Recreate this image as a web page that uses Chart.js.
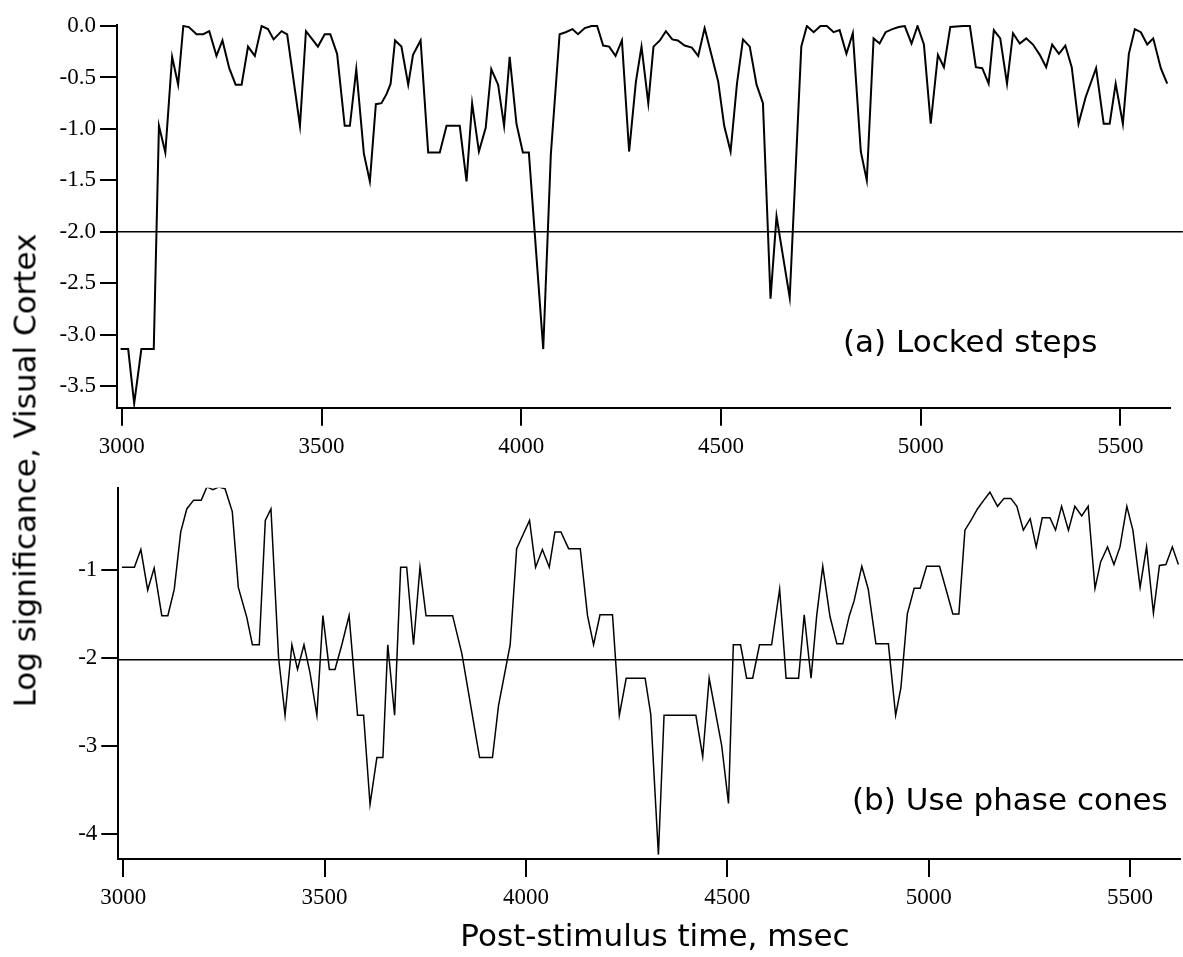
<!DOCTYPE html>
<html>
<head>
<meta charset="utf-8">
<script src="https://cdn.jsdelivr.net/npm/chart.js@4.4.1/dist/chart.umd.min.js"></script>
<style>
  body { margin: 0; background: #fff; }
  #wrap { position: relative; width: 1183px; height: 957px; overflow: hidden; background: #fff; }
  canvas { position: absolute; left: 0; }
  .lab { position: absolute; font-family: "DejaVu Sans"; font-size: 31px; line-height: 31px; color: #000; white-space: nowrap; }
</style>
</head>
<body>
<div id="wrap">
  <canvas id="chartA" width="1183" height="470" style="top:0"></canvas>
  <canvas id="chartB" width="1183" height="450" style="top:470px"></canvas>
  <div class="lab" style="left:843px;top:326px">(a) Locked steps</div>
  <div class="lab" style="left:852px;top:784px">(b) Use phase cones</div>
  <div class="lab" style="left:355px;top:920px;width:600px;text-align:center">Post-stimulus time, msec</div>
  <div class="lab" style="left:-275px;top:455px;width:600px;text-align:center;transform:rotate(-90deg)">Log significance, Visual Cortex</div>
</div>
<script>
// tick labels
const xTicks = [3000, 3500, 4000, 4500, 5000, 5500];
const aYTicks = [0, -0.5, -1, -1.5, -2, -2.5, -3, -3.5];
const bYTicks = [-1, -2, -3, -4];

// significance thresholds
const aLevel = -2.0;
const bLevel = -2.02;

// (a) Locked steps
const aTime = [2997, 3016, 3031, 3049, 3080, 3093, 3109, 3126, 3141, 3154,
  3168, 3187, 3204, 3219, 3237, 3252, 3269, 3285, 3300, 3316,
  3333, 3350, 3366, 3380, 3400, 3414, 3446, 3461, 3477, 3491,
  3508, 3522, 3539, 3558, 3571, 3587, 3606, 3621, 3636, 3650,
  3663, 3673, 3684, 3700, 3717, 3729, 3748, 3767, 3796, 3813,
  3846, 3863, 3877, 3894, 3911, 3925, 3942, 3957, 3971, 3988,
  4004, 4019, 4055, 4074, 4096, 4111, 4128, 4142, 4159, 4176,
  4190, 4205, 4220, 4236, 4252, 4270, 4287, 4301, 4318, 4331,
  4347, 4362, 4378, 4392, 4409, 4427, 4443, 4459, 4476, 4493,
  4508, 4524, 4540, 4555, 4572, 4589, 4605, 4624, 4639, 4672,
  4701, 4715, 4732, 4749, 4765, 4782, 4797, 4814, 4830, 4850,
  4865, 4882, 4897, 4912, 4929, 4945, 4960, 4977, 4992, 5008,
  5025, 5043, 5058, 5074, 5106, 5123, 5138, 5154, 5170, 5183,
  5199, 5216, 5231, 5248, 5264, 5281, 5298, 5314, 5329, 5346,
  5362, 5378, 5395, 5413, 5439, 5458, 5473, 5488, 5506, 5521,
  5536, 5551, 5567, 5582, 5601, 5617];
const aSig = [-3.14, -3.14, -3.67, -3.14, -3.14, -0.97, -1.23, -0.30, -0.57, 0.0,
  -0.01, -0.08, -0.08, -0.05, -0.29, -0.14, -0.41, -0.57, -0.57, -0.20,
  -0.29, 0.0, -0.03, -0.13, -0.05, -0.08, -0.97, -0.05, -0.13, -0.20,
  -0.08, -0.08, -0.27, -0.97, -0.97, -0.42, -1.24, -1.51, -0.76, -0.75,
  -0.66, -0.56, -0.14, -0.20, -0.57, -0.28, -0.14, -1.23, -1.23, -0.97,
  -0.97, -1.51, -0.75, -1.22, -0.99, -0.42, -0.57, -0.97, -0.30, -0.95,
  -1.23, -1.23, -3.14, -1.25, -0.08, -0.06, -0.03, -0.08, -0.02, 0.0,
  0.0, -0.19, -0.20, -0.29, -0.14, -1.22, -0.54, -0.20, -0.75, -0.20,
  -0.14, -0.05, -0.13, -0.14, -0.19, -0.21, -0.29, -0.02, -0.28, -0.54,
  -0.97, -1.22, -0.56, -0.13, -0.20, -0.57, -0.75, -2.65, -1.85, -2.64,
  -0.20, 0.0, -0.06, 0.0, 0.0, -0.06, -0.04, -0.27, -0.07, -1.22,
  -1.50, -0.12, -0.17, -0.06, -0.03, -0.01, 0.0, -0.17, 0.0, -0.18,
  -0.95, -0.28, -0.40, -0.01, 0.0, 0.0, -0.40, -0.41, -0.56, -0.04,
  -0.12, -0.56, -0.07, -0.17, -0.12, -0.18, -0.28, -0.40, -0.18, -0.27,
  -0.19, -0.40, -0.95, -0.69, -0.41, -0.95, -0.95, -0.56, -0.95, -0.27,
  -0.03, -0.06, -0.18, -0.12, -0.41, -0.56];

// (b) Use phase cones
const bTime = [2997, 3028, 3044, 3061, 3077, 3096, 3111, 3127, 3143, 3158,
  3175, 3194, 3208, 3223, 3238, 3253, 3271, 3286, 3307, 3321,
  3338, 3353, 3367, 3386, 3402, 3419, 3433, 3449, 3464, 3481,
  3496, 3512, 3526, 3543, 3561, 3582, 3597, 3613, 3630, 3645,
  3657, 3674, 3689, 3704, 3721, 3737, 3752, 3818, 3841, 3863,
  3885, 3917, 3932, 3961, 3977, 4009, 4024, 4041, 4058, 4072,
  4087, 4106, 4135, 4153, 4168, 4184, 4215, 4232, 4249, 4296,
  4310, 4329, 4343, 4422, 4439, 4455, 4486, 4503, 4515, 4533,
  4548, 4563, 4580, 4610, 4630, 4646, 4677, 4691, 4708, 4722,
  4737, 4755, 4772, 4787, 4803, 4815, 4834, 4850, 4869, 4900,
  4918, 4931, 4947, 4964, 4979, 4995, 5027, 5043, 5060, 5075,
  5090, 5105, 5121, 5137, 5152, 5171, 5187, 5204, 5219, 5235,
  5252, 5267, 5282, 5301, 5315, 5330, 5347, 5363, 5380, 5396,
  5413, 5427, 5444, 5460, 5475, 5492, 5507, 5525, 5541, 5558,
  5573, 5589, 5605, 5620];
const bSig = [-0.97, -0.97, -0.77, -1.23, -0.98, -1.52, -1.52, -1.22, -0.57, -0.31,
  -0.21, -0.21, -0.06, -0.09, -0.06, -0.08, -0.34, -1.20, -1.54, -1.85,
  -1.85, -0.44, -0.31, -2.00, -2.65, -1.85, -2.13, -1.85, -2.17, -2.65,
  -1.52, -2.13, -2.13, -1.85, -1.52, -2.65, -2.65, -3.66, -3.13, -3.13,
  -1.85, -2.65, -0.97, -0.97, -1.85, -0.97, -1.52, -1.52, -1.95, -2.54,
  -3.13, -3.13, -2.54, -1.85, -0.76, -0.44, -0.97, -0.77, -0.97, -0.57,
  -0.57, -0.76, -0.76, -1.52, -1.85, -1.51, -1.51, -2.65, -2.23, -2.23,
  -2.64, -4.23, -2.65, -2.65, -3.12, -2.23, -2.99, -3.65, -1.85, -1.85,
  -2.23, -2.23, -1.85, -1.85, -1.22, -2.23, -2.23, -1.51, -2.23, -1.52,
  -0.96, -1.53, -1.84, -1.84, -1.52, -1.35, -0.96, -1.22, -1.84, -1.84,
  -2.65, -2.34, -1.50, -1.21, -1.21, -0.96, -0.96, -1.22, -1.50, -1.50,
  -0.55, -0.44, -0.31, -0.21, -0.12, -0.28, -0.19, -0.19, -0.28, -0.55,
  -0.42, -0.74, -0.41, -0.41, -0.55, -0.28, -0.55, -0.28, -0.39, -0.28,
  -1.21, -0.91, -0.74, -0.94, -0.74, -0.28, -0.55, -1.20, -0.74, -1.49,
  -0.95, -0.94, -0.74, -0.94];

const tickFont = { family: "Liberation Serif", size: 23 };

function panel(id, time, sig, level, yTicks, fmt, box) {
    const pts = time.map((t, i) => ({ x: t, y: sig[i] }));

    return new Chart(document.getElementById(id), {
        type: "line",
        data: {
            datasets: [{
                data: pts,
                borderColor: "#000",
                borderWidth: box.lineW,
                pointRadius: 0,
                tension: 0
            }, {
                // threshold line runs past the axis end
                data: [{ x: box.xMin, y: level }, { x: box.xEdge, y: level }],
                borderColor: "#000",
                borderWidth: 1.5,
                pointRadius: 0,
                clip: false
            }]
        },
        options: {
            responsive: false,
            animation: false,
            events: [],
            layout: { padding: { left: 0, right: box.padRight, top: box.padTop, bottom: 0 } },
            plugins: { legend: { display: false }, tooltip: { enabled: false } },
            scales: {
                x: {
                    type: "linear",
                    min: box.xMin,
                    max: box.xMax,
                    afterBuildTicks: s => { s.ticks = xTicks.map(v => ({ value: v })); },
                    afterFit: s => { s.height = box.xHeight; },
                    border: { display: true, color: "#000", width: 2 },
                    grid: { drawOnChartArea: false, color: "#000", lineWidth: 2, tickLength: 18 },
                    ticks: { color: "#000", font: tickFont, padding: 7, maxRotation: 0, autoSkip: false,
                             callback: v => String(v) }
                },
                y: {
                    type: "linear",
                    min: box.yMin,
                    max: box.yMax,
                    afterBuildTicks: s => { s.ticks = yTicks.map(v => ({ value: v })); },
                    afterFit: s => { s.width = box.yWidth; },
                    border: { display: true, color: "#000", width: 2 },
                    grid: { drawOnChartArea: false, color: "#000", lineWidth: 2, tickLength: 17 },
                    ticks: { color: "#000", font: tickFont, padding: 4, autoSkip: false, callback: fmt }
                }
            }
        }
    });
}

panel("chartA", aTime, aSig, aLevel, aYTicks, v => v.toFixed(1), {
    xMin: 2988, xMax: 5624, xEdge: 5656, yMin: -3.71, yMax: 0.01,
    padTop: 25, padRight: 13, xHeight: 62.3, yWidth: 117, lineW: 2
});

panel("chartB", bTime, bSig, bLevel, bYTicks, v => String(v), {
    xMin: 2988, xMax: 5624, xEdge: 5632, yMin: -4.28, yMax: -0.07,
    padTop: 11.7, padRight: 3, xHeight: 61, yWidth: 118.3, lineW: 1.5
});
</script>
</body>
</html>
